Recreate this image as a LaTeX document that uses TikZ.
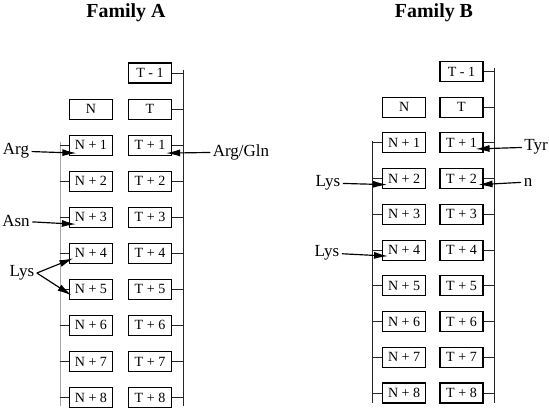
\documentclass[tikz,border=0pt]{standalone}
\usepackage{fontspec}
\setmainfont{Liberation Serif}
\usepackage{tikz}
\usetikzlibrary{positioning}
\usetikzlibrary{calc}
\usetikzlibrary{arrows.meta}

\begin{document}
\begin{tikzpicture}[x=0.03cm,y=-0.03cm,node distance=4.5mm]
\tikzset{box/.style={draw,line width=0.9pt,minimum width=1.29cm,minimum height=0.6cm,inner sep=0pt,font=\fontsize{12}{14}\selectfont}}
\tikzset{tag/.style={font=\fontsize{14.5}{16}\selectfont,inner sep=2pt}}
\tikzset{title/.style={font=\fontsize{17}{20}\selectfont\bfseries}}
\tikzset{rail/.style={draw,black!85,line width=0.8pt}}
\tikzset{pointer/.style={draw,line width=1pt,-{Latex[length=12pt,width=6pt]}}}
    \useasboundingbox (0,0) rectangle (549,408);
    % Family A
        \node[title] (titleA) at (126,13) {Family A};
        \node[box] (aTm1) at (150,73) {T - 1};
        \node[box,below=of aTm1] (aT) {T};
        \node[box,left=of aT] (aN) {N};
        \node[box,below=of aT] (aT1) {T + 1};
        \node[box,left=of aT1] (aN1) {N + 1};
        \node[box,below=of aT1] (aT2) {T + 2};
        \node[box,left=of aT2] (aN2) {N + 2};
        \node[box,below=of aT2] (aT3) {T + 3};
        \node[box,left=of aT3] (aN3) {N + 3};
        \node[box,below=of aT3] (aT4) {T + 4};
        \node[box,left=of aT4] (aN4) {N + 4};
        \node[box,below=of aT4] (aT5) {T + 5};
        \node[box,left=of aT5] (aN5) {N + 5};
        \node[box,below=of aT5] (aT6) {T + 6};
        \node[box,left=of aT6] (aN6) {N + 6};
        \node[box,below=of aT6] (aT7) {T + 7};
        \node[box,left=of aT7] (aN7) {N + 7};
        \node[box,below=of aT7] (aT8) {T + 8};
        \node[box,left=of aT8] (aN8) {N + 8};
        \coordinate (aRtop) at (183,70);
        \coordinate (aRbot) at (183,406);
        \coordinate (aLtop) at (60,142);
        \coordinate (aLbot) at (60,406);
            \path[rail] (aRtop) -- (aRbot);
            \path[rail,gray!70] (aLtop) -- (aLbot);
        \foreach \t in {aTm1,aT,aT1,aT2,aT3,aT4,aT5,aT6,aT7,aT8}
            \path[rail] (\t.east) -- (\t.east -| aRtop);
        \foreach \n in {aN1,aN2,aN3,aN4,aN5,aN6,aN7,aN8}
            \path[rail] (\n.west) -- (\n.west -| aLtop);
        \node[tag] (argA) at (16,151) {Arg};
            \path[pointer] (argA) -- ($(aN1.west)+(7.5,8)$);
        \node[tag] (argglnA) at (241,152) {Arg/Gln};
            \path[pointer] (argglnA) -- ($(aT1.east)+(-6,8)$);
        \node[tag] (asnA) at (16,221) {Asn};
            \path[pointer] (asnA) -- ($(aN3.west)+(7,7)$);
        \node[tag] (lysA) at (22,273) {Lys};
            \path[pointer] (lysA.east) -- ($(aN4.west)+(4.5,5)$);
            \path[pointer] (lysA.east) -- ($(aN5.west)+(2.5,6)$);
    % Family B
        \node[title] (titleB) at (434,13) {Family B};
        \node[box] (bTm1) at (461.5,71.5) {T - 1};
        \node[box,below=4.4mm of bTm1] (bT) {T};
        \node[box,left=4mm of bT] (bN) {N};
        \node[box,below=4.4mm of bT] (bT1) {T + 1};
        \node[box,left=4mm of bT1] (bN1) {N + 1};
        \node[box,below=4.4mm of bT1] (bT2) {T + 2};
        \node[box,left=4mm of bT2] (bN2) {N + 2};
        \node[box,below=4.4mm of bT2] (bT3) {T + 3};
        \node[box,left=4mm of bT3] (bN3) {N + 3};
        \node[box,below=4.4mm of bT3] (bT4) {T + 4};
        \node[box,left=4mm of bT4] (bN4) {N + 4};
        \node[box,below=4.4mm of bT4] (bT5) {T + 5};
        \node[box,left=4mm of bT5] (bN5) {N + 5};
        \node[box,below=4.4mm of bT5] (bT6) {T + 6};
        \node[box,left=4mm of bT6] (bN6) {N + 6};
        \node[box,below=4.4mm of bT6] (bT7) {T + 7};
        \node[box,left=4mm of bT7] (bN7) {N + 7};
        \node[box,below=4.4mm of bT7] (bT8) {T + 8};
        \node[box,left=4mm of bT8] (bN8) {N + 8};
        \coordinate (bRtop) at (494,68);
        \coordinate (bRbot) at (494,403);
        \coordinate (bLtop) at (372,141);
        \coordinate (bLbot) at (372,403);
            \path[rail] (bRtop) -- (bRbot);
            \path[rail] (bLtop) -- (bLbot);
        \foreach \t in {bTm1,bT,bT1,bT2,bT3,bT4,bT5,bT6,bT7,bT8}
            \path[rail] (\t.east) -- (\t.east -| bRtop);
        \foreach \n in {bN1,bN2,bN3,bN4,bN5,bN6,bN7,bN8}
            \path[rail] (\n.west) -- (\n.west -| bLtop);
        \node[tag] (tyrB) at (536,147) {Tyr};
            \path[pointer] (tyrB) -- ($(bT1.east)+(-8,6)$);
        \node[tag] (nB) at (528,182) {n};
            \path[pointer] (nB) -- ($(bT2.east)+(-5,6)$);
        \node[tag] (lysBa) at (328,183) {Lys};
            \path[pointer] (lysBa) -- ($(bN2.west)+(5,6)$);
        \node[tag] (lysBb) at (327,253) {Lys};
            \path[pointer] (lysBb) -- ($(bN4.west)+(6,6)$);
\end{tikzpicture}
\end{document}
